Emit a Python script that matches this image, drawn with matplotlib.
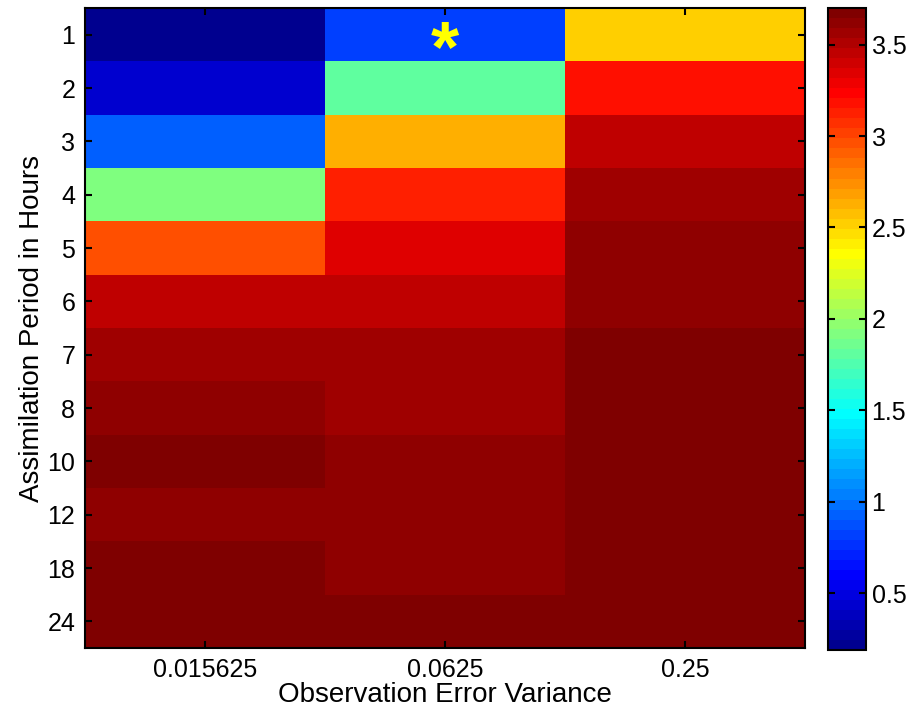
import numpy as np
import matplotlib
matplotlib.use('Agg')
import matplotlib.pyplot as plt
from matplotlib.colors import ListedColormap

plt.rcParams['font.family'] = ['Liberation Sans', 'DejaVu Sans']

# Data
variances = ['0.015625', '0.0625', '0.25']
periods = ['1', '2', '3', '4', '5', '6', '7', '8', '10', '12', '18', '24']
col_low = [0.19, 0.44, 0.93, 1.92, 2.96, 3.45, 3.56, 3.62, 3.70, 3.62, 3.70, 3.70]
col_mid = [0.82, 1.81, 2.63, 3.12, 3.34, 3.45, 3.56, 3.56, 3.62, 3.62, 3.62, 3.70]
col_high = [2.52, 3.18, 3.45, 3.56, 3.62, 3.62, 3.70, 3.70, 3.70, 3.70, 3.70, 3.70]
best_cell = (0, 1)   # row, column of the yellow star

vmin, vmax = 0.19, 3.70
cb_ticks = [0.5, 1, 1.5, 2, 2.5, 3, 3.5]


# matlab style jet (piecewise linear, 64 colours)
def matlab_jet(m=64):
    n = int(np.ceil(m / 4))
    u = np.concatenate([np.arange(1, n + 1) / n, np.ones(n - 1), np.arange(n, 0, -1) / n])
    g = int(np.ceil(n / 2)) - int(m % 4 == 1) + np.arange(1, len(u) + 1)
    r = g + n
    b = g - n
    J = np.zeros((m, 3))
    for k, idx in enumerate([r, g, b]):
        ok = (idx >= 1) & (idx <= m)
        J[idx[ok] - 1, k] = u[ok]
    return ListedColormap(J)


data = np.column_stack([col_low, col_mid, col_high])

fig = plt.figure(figsize=(9.16, 7.17), dpi=100)
ax = fig.add_axes([85/916, 1-648/717, 720/916, 640/717])
cax = fig.add_axes([828/916, 1-650/717, 38/916, 642/717])

im = ax.imshow(data, cmap=matlab_jet(64), vmin=vmin, vmax=vmax, aspect='auto',
               interpolation='nearest')

ax.text(best_cell[1], best_cell[0] + 0.33, '*', color='#ffff00', fontsize=52,
        fontweight='bold', ha='center', va='center')

ax.set_xticks(range(len(variances)))
ax.set_xticklabels(variances)
ax.set_yticks(range(len(periods)))
ax.set_yticklabels(periods)
ax.tick_params(direction='in', top=True, right=True, length=5, width=1.5,
               labelsize=18, pad=7)
for s in ax.spines.values():
    s.set_linewidth(1.5)
ax.set_xlabel('Observation Error Variance', fontsize=20, labelpad=0)
ax.set_ylabel('Assimilation Period in Hours', fontsize=20, labelpad=2)

cb = fig.colorbar(im, cax=cax)
cb.set_ticks(cb_ticks)
cb.set_ticklabels([f'{t:g}' for t in cb_ticks])
cax.tick_params(direction='in', left=True, right=True, length=5, width=1.5,
                labelsize=18, pad=4)
cb.outline.set_linewidth(1.5)

fig.savefig('out.png', dpi=100)
